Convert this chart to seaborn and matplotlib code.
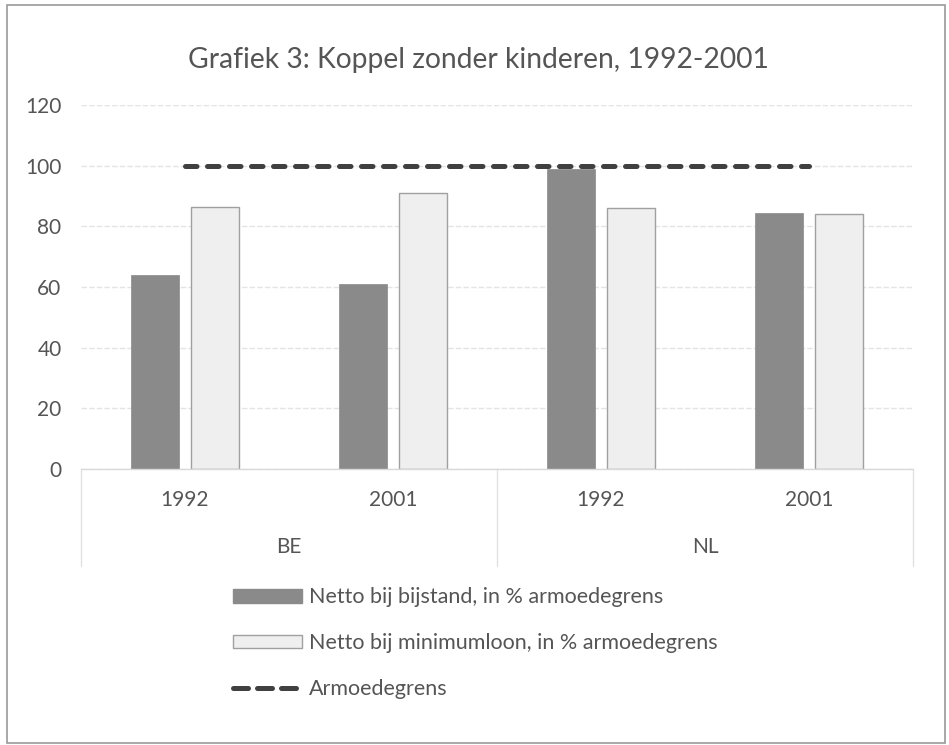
import numpy as np
import pandas as pd
import matplotlib
matplotlib.use("Agg")
import matplotlib.pyplot as plt
import seaborn as sns
from matplotlib.patches import Patch, Rectangle
from matplotlib.lines import Line2D

# ---- data ----
countries = ["BE", "BE", "NL", "NL"]
years = ["1992", "2001", "1992", "2001"]
bijstand = [64, 61, 99, 84.5]
minimumloon = [86.5, 91, 86, 84]
armoedegrens = [100, 100, 100, 100]
series_names = ["Netto bij bijstand, in % armoedegrens",
                "Netto bij minimumloon, in % armoedegrens"]
line_name = "Armoedegrens"
title = "Grafiek 3: Koppel zonder kinderen, 1992-2001"
yticks = [0, 20, 40, 60, 80, 100, 120]

sns.set_style("white")
plt.rcParams["font.family"] = ["Lato", "DejaVu Sans"]

TXT = "#555555"
DARK = "#8a8a8a"
LIGHT = "#efefef"
LIGHT_EDGE = "#a0a0a0"
LINE = "#404040"
GRID = "#e4e4e4"
FS = 15

cats = [f"{c} {y}" for c, y in zip(countries, years)]
df = pd.DataFrame({
    "cat": cats * 2,
    "value": bijstand + minimumloon,
    "serie": [series_names[0]] * 4 + [series_names[1]] * 4,
})

W, H = 949, 745
fig = plt.figure(figsize=(W / 100, H / 100), dpi=100)
ax = fig.add_axes([81 / W, 1 - 469 / H, 832 / W, 364 / H])

sns.barplot(data=df, x="cat", y="value", hue="serie", order=cats,
            hue_order=series_names, palette=[DARK, LIGHT],
            width=0.57, gap=0.19, ax=ax, legend=False, zorder=2)
for i, bar in enumerate(ax.patches):
    if i >= 4:
        bar.set_edgecolor(LIGHT_EDGE)
        bar.set_linewidth(1.0)
    else:
        bar.set_edgecolor(DARK)
        bar.set_linewidth(0.5)

xpos = np.arange(len(cats))
ax.plot(xpos, armoedegrens, color=LINE, lw=3.6, dashes=(2.3, 2.1),
        dash_capstyle="round", zorder=3)

ax.set_ylim(0, 120)
ax.set_xlim(-0.5, len(cats) - 0.5)
ax.set_yticks(yticks)
ax.set_yticklabels([str(t) for t in yticks], fontsize=FS, color=TXT)
ax.tick_params(axis="y", length=0, pad=14)
ax.set_xticks([])
ax.set_xlabel("")
ax.set_ylabel("")
for s in ["top", "right", "left"]:
    ax.spines[s].set_visible(False)
ax.spines["bottom"].set_color("#d9d9d9")
ax.spines["bottom"].set_linewidth(1.0)
ax.grid(axis="y", color=GRID, lw=1.0, ls=(0, (4, 1.5)), zorder=0)
ax.set_axisbelow(True)

# multi-level category axis
trans = ax.get_xaxis_transform()
for x, yr in zip(xpos, years):
    ax.text(x, -31 / 364, yr, transform=trans, ha="center",
            va="center", fontsize=FS, color=TXT)
groups = list(dict.fromkeys(countries))
for g in groups:
    idx = [i for i, c in enumerate(countries) if c == g]
    ax.text(np.mean(idx), -78 / 364, g, transform=trans, ha="center",
            va="center", fontsize=FS, color=TXT)
bounds = [-0.5] + [i + 0.5 for i in range(len(countries) - 1)
                   if countries[i] != countries[i + 1]] + [len(cats) - 0.5]
for b in bounds:
    ax.plot([b, b], [0, -97 / 364], transform=trans, color="#e2e2e2",
            lw=1.0, clip_on=False)

fig.text(478 / W, 1 - 60 / H, title, ha="center", va="center",
         fontsize=20.3, color=TXT)

handles = [Patch(facecolor=DARK, edgecolor=DARK),
           Patch(facecolor=LIGHT, edgecolor=LIGHT_EDGE),
           Line2D([0], [0], color=LINE, lw=3.6, dashes=(3.0, 1.8),
                  dash_capstyle="round")]
leg = fig.legend(handles, series_names + [line_name], loc="upper left",
                 bbox_to_anchor=(214 / W, 1 - 568 / H), frameon=False,
                 fontsize=15.5, handlelength=3.2, handleheight=0.6,
                 handletextpad=0.33, labelspacing=1.2)
for t in leg.get_texts():
    t.set_color(TXT)

fig.patches.append(Rectangle((7 / W, 2 / H), 938 / W, 1 - 7 / H,
                             transform=fig.transFigure, fill=False,
                             edgecolor="#9a9a9a", lw=1.2))

fig.savefig("out.png", dpi=100)
